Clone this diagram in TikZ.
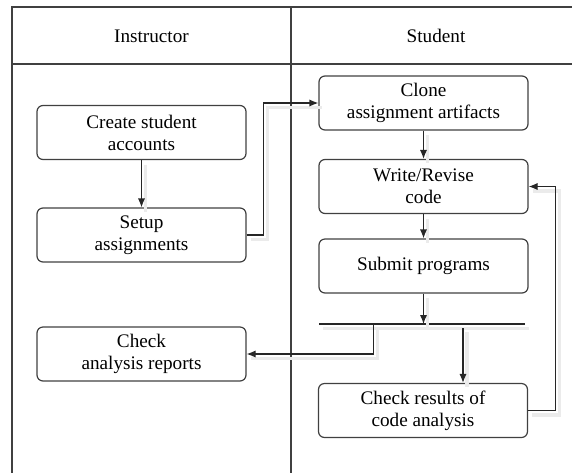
\documentclass[tikz,border=0pt]{standalone}
\usepackage{fontspec}
\setmainfont{Liberation Serif}
\usepackage{tikz}
\usetikzlibrary{arrows.meta}

\begin{document}
\begin{tikzpicture}[x=0.5pt, y=-0.5pt,
    font=\fontsize{9.6}{11}\selectfont,
    lane/.style={draw=black!75, line width=0.6pt},
    task/.style={draw=black!75, line width=0.6pt, rounded corners=3pt, align=center,
        minimum width=104.5pt, minimum height=27pt, inner sep=1pt},
    conn/.style={draw=black!85, line width=0.6pt, -{Latex[length=4.5pt, width=3.6pt]},
        preaction={draw=black!8, line width=1.6pt, arrows=-,
            transform canvas={shift={(2pt,-2.2pt)}}}},
    syncbar/.style={draw=black!85, line width=0.6pt,
        preaction={draw=black!8, line width=1.6pt,
            transform canvas={shift={(2pt,-2.2pt)}}}}]
    \useasboundingbox (0,0) rectangle (572,472);

    % Swim lanes
    \draw[lane] (12,480) -- (12,7) -- (590,7);
    \draw[lane] (12,64) -- (590,64);
    \draw[lane] (291,7) -- (291,480);
    \node (instructor) at (151.5,36) {Instructor};
    \node (student) at (436,36) {Student};

    % Instructor lane
    \node[task] (create) at (141.5,132.5) {Create student\\accounts};
    \node[task] (setup) at (141.5,235) {Setup\\assignments};
    \node[task] (reports) at (141.5,354) {Check\\analysis reports};

    % Student lane
    \node[task] (clone) at (423.5,103) {Clone\\assignment artifacts};
    \node[task] (write) at (423.5,186.5) {Write/Revise\\code};
    \node[task] (submit) at (423.5,266) {Submit programs};
    \node[task] (results) at (423,410.5) {Check results of\\code analysis};

    % Fork bar
    \coordinate (barL) at (319,324);
    \coordinate (barR) at (525,324);
    \draw[syncbar] (barL) -- (barR);

    % Arrows
    \draw[conn] (create) -- (setup);
    \draw[conn] (setup.east) -- ++(8.5pt,0) |- (clone.west);
    \draw[conn] (clone) -- (write);
    \draw[conn] (write) -- (submit);
    \draw[conn] (submit.south) -- (submit.south |- barL);
    \draw[conn] ([xshift=20pt, yshift=-2pt]results.north |- barL) -- ([xshift=20pt]results.north);
    \draw[conn] ([xshift=-25pt]submit.south |- barL) |- (reports.east);
    \draw[conn] (results.east) -- ++(13.5pt,0) |- (write.east);
\end{tikzpicture}
\end{document}
